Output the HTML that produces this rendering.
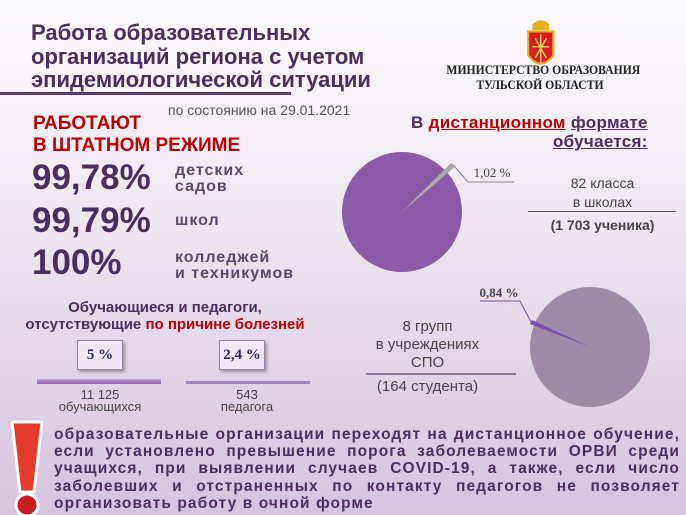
<!DOCTYPE html>
<html><head><meta charset="utf-8"><style>
body{margin:0}
#c{position:relative;width:686px;height:515px;overflow:hidden;font-family:"Liberation Sans",sans-serif;font-weight:bold;
background:linear-gradient(180deg,#fbfafc 0%,#f1ebf3 35%,#e2d5e8 70%,#d5c3df 100%);color:#4b2d60}
.a{position:absolute;white-space:nowrap}
.c{text-align:center}
</style></head><body><div id="c">
<div class="a" style="left:31px;top:21px;font-size:22px;line-height:23.5px;">Работа образовательных<br>организаций региона с учетом<br>эпидемиологической ситуации</div>
<div style="position:absolute;left:0;top:92px;width:291px;height:3px;background:#5a3a6e"></div>
<div class="a" style="left:168px;top:102px;font-size:14px;font-weight:normal;color:#555">по состоянию на 29.01.2021</div>
<svg class="a" style="left:0;top:0" width="686" height="515">
<g transform="translate(524,16) scale(1.4)">
<path d="M6 6 Q12 0 18 6 L18 10 L6 10Z" fill="#e8b020"/>
<path d="M3 11 H21 V28 Q12 40 3 28Z" fill="#d42020" stroke="#e8b020" stroke-width="1.5"/>
<path d="M12 13 V34 M6 22 H18 M8 16 L16 30 M16 16 L8 30" stroke="#f0d060" stroke-width="1"/>
</g>
<ellipse cx="402" cy="212" rx="60" ry="60" fill="#8c5aa8"/>
<path d="M402 212 L456 166 L451 163Z" fill="#aaa"/>
<polyline points="455,167 468,182 514,182" fill="none" stroke="#888" stroke-width="1"/>
<ellipse cx="590" cy="347" rx="60" ry="60" fill="#9e8aa6"/>
<path d="M590 347 L532 320 L530 324Z" fill="#7a4fa8"/>
<polyline points="531,322 520,301 480,301" fill="none" stroke="#7a4fa8" stroke-width="1"/>
<path d="M12 422 H42 L34 492 H20Z" fill="#e43a2a" stroke="#fff" stroke-width="3" stroke-linejoin="round"/>
<circle cx="27" cy="505" r="11" fill="#c82020" stroke="#fff" stroke-width="3"/>
</svg>
<div class="a" style="left:436px;top:62px;width:208px;font-family:'Liberation Serif',serif;font-size:13px;line-height:15px;color:#222;text-align:center;transform:scaleX(0.9);transform-origin:center">МИНИСТЕРСТВО ОБРАЗОВАНИЯ<br>ТУЛЬСКОЙ ОБЛАСТИ</div>
<div class="a" style="left:33px;top:113px;font-size:19px;line-height:22px;color:#c00000">РАБОТАЮТ<br>В ШТАТНОМ РЕЖИМЕ</div>
<div class="a" style="left:32px;top:158px;font-size:35px">99,78%</div>
<div class="a" style="left:175px;top:163px;font-size:16px;line-height:16px;letter-spacing:1px;color:#5a4a6a">детских<br>садов</div>
<div class="a" style="left:32px;top:201px;font-size:35px">99,79%</div>
<div class="a" style="left:175px;top:212px;font-size:16px;letter-spacing:1px;color:#5a4a6a">школ</div>
<div class="a" style="left:32px;top:243px;font-size:35px">100%</div>
<div class="a" style="left:175px;top:250px;font-size:16px;line-height:16px;letter-spacing:1px;color:#5a4a6a">колледжей<br>и техникумов</div>
<div class="a c" style="left:15px;top:299px;width:300px;font-size:15px;line-height:17px">Обучающиеся и педагоги,<br>отсутствующие <span style="color:#c00000">по причине болезней</span></div>
<div class="a c" style="left:77px;top:340px;width:44px;height:28px;line-height:28px;background:#efe8f4;border:1px solid #9a80b0;box-shadow:2px 2px 3px #998;font-family:'Liberation Serif',serif;font-size:15px;color:#2a2a6a">5 %</div>
<div class="a c" style="left:219px;top:340px;width:44px;height:28px;line-height:28px;background:#efe8f4;border:1px solid #9a80b0;box-shadow:2px 2px 3px #998;font-family:'Liberation Serif',serif;font-size:15px;color:#2a2a6a">2,4 %</div>
<div class="a" style="left:37px;top:379px;width:124px;height:5px;background:linear-gradient(#c0a0d8,#8a60a8)"></div>
<div class="a" style="left:186px;top:381px;width:124px;height:3px;background:#a080bc"></div>
<div class="a c" style="left:40px;top:389px;width:120px;font-size:13px;line-height:12px;font-weight:normal;color:#444">11 125<br>обучающихся</div>
<div class="a c" style="left:187px;top:389px;width:120px;font-size:13px;line-height:12px;font-weight:normal;color:#444">543<br>педагога</div>
<div class="a" style="left:411px;top:113px;font-size:17px;line-height:19px;letter-spacing:0.3px;text-align:right;">В <span style="color:#c00000;text-decoration:underline">дистанционном</span> <u>формате</u><br><u>обучается:</u></div>
<div class="a c" style="left:530px;top:174px;width:145px;font-size:14px;line-height:19px;font-weight:normal;color:#444">82 класса<br>в школах</div>
<div class="a" style="left:528px;top:211px;width:148px;height:1px;background:#555"></div>
<div class="a c" style="left:530px;top:217px;width:145px;font-size:14px;color:#444">(1 703 ученика)</div>
<div class="a c" style="left:350px;top:318px;width:155px;font-size:15px;line-height:18px;font-weight:normal;color:#444">8 групп<br>в учреждениях<br>СПО</div>
<div class="a" style="left:366px;top:373px;width:150px;height:2px;background:#8a70a0"></div>
<div class="a c" style="left:350px;top:378px;width:155px;font-size:15px;font-weight:normal;color:#444">(164 студента)</div>
<div class="a c" style="left:462px;top:165px;width:60px;font-family:'Liberation Serif',serif;font-size:13px;font-weight:normal;color:#444">1,02 %</div>
<div class="a c" style="left:474px;top:285px;width:50px;font-family:'Liberation Serif',serif;font-size:13px;color:#444">0,84 %</div>
<div class="a" style="left:54px;top:426px;width:626px;font-size:15.5px;line-height:17.2px;letter-spacing:1.1px;white-space:normal;text-align:justify;">образовательные организации переходят на дистанционное обучение, если установлено превышение порога заболеваемости ОРВИ среди учащихся, при выявлении случаев COVID-19, а также, если число заболевших и отстраненных по контакту педагогов не позволяет организовать работу в очной форме</div>
</div></body></html>
